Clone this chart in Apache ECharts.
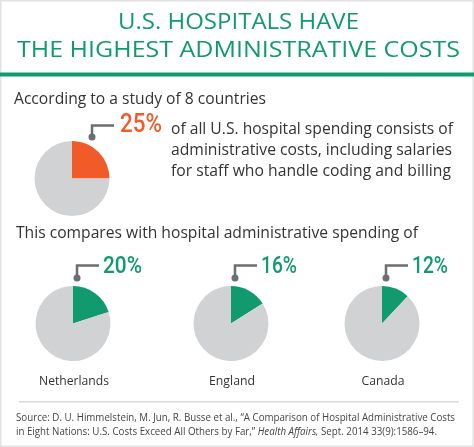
<!DOCTYPE html>
<html><head><meta charset="utf-8">
<script src="https://cdn.jsdelivr.net/npm/echarts@6/dist/echarts.min.js"></script>
<style>html,body{margin:0;padding:0;background:#fff}#c{width:474px;height:447px}</style>
</head><body><div id="c"></div>
<script>
const titleLines = ['U.S. HOSPITALS HAVE', 'THE HIGHEST ADMINISTRATIVE COSTS'];
const introText = 'According to a study of 8 countries';
const usLabel = 'United States';
const usValue = 25;
const usTextLines = ['of all U.S. hospital spending consists of', 'administrative costs, including salaries', 'for staff who handle coding and billing'];
const compareText = 'This compares with hospital administrative spending of';
const countries = ['Netherlands', 'England', 'Canada'];
const countryValues = [20, 16, 12];
const sourceLine1 = 'Source: D. U. Himmelstein, M. Jun, R. Busse et al., \u201cA Comparison of Hospital Administrative Costs';
const sourceLine2a = 'in Eight Nations: U.S. Costs Exceed All Others by Far,\u201d ';
const sourceItalic = 'Health Affairs,';
const sourceLine2b = ' Sept. 2014 33(9):1586\u201394.';

const GREEN = '#119a6e', ORANGE = '#f15a29', GREY = '#d1d2d4', LINE = '#6d6e71', TEXT = '#333333';
const FONT = '"Open Sans", Lato, sans-serif';
const PCT_FONT = 'Roboto, "Open Sans", sans-serif';

const ctx = document.createElement('canvas').getContext('2d');
function measure(text, font) { ctx.font = font; return ctx.measureText(text).width; }
function fit(text, font, target) { return target / measure(text, font); }

const chart = echarts.init(document.getElementById('c'), null, {renderer: 'canvas'});

const pieCenters = [[73, 323.5], [231, 323.5], [382, 323.5]];
const R = 37.5;

function pieSeries(name, value, color, center) {
  return {
    type: 'pie', name: name, center: center, radius: [0, R],
    startAngle: 90, clockwise: true, silent: true, animation: false,
    label: {show: false}, labelLine: {show: false},
    data: [
      {name: name, value: value, itemStyle: {color: color}},
      {name: 'Other', value: 100 - value, itemStyle: {color: GREY}}
    ]
  };
}

const series = [pieSeries(usLabel, usValue, ORANGE, [72, 178.5])];
countries.forEach((c, i) => series.push(pieSeries(c, countryValues[i], GREEN, pieCenters[i])));

function callout(dx, dy, topY, endX) {
  return [
    {type: 'polyline', shape: {points: [[dx, dy], [dx, topY], [endX, topY]]}, style: {stroke: LINE, lineWidth: 2.5, fill: null}},
    {type: 'circle', shape: {cx: dx, cy: dy, r: 3.5}, style: {fill: LINE}}
  ];
}

function txt(text, x, y, font, fill, width, align) {
  return {type: 'text', x: x, y: y, scaleX: fit(text, font, width),
    style: {text: text, fill: fill, font: font, textAlign: align || 'left', textVerticalAlign: 'middle'}};
}

const TITLE_FONT = '500 22px ' + FONT;
const BODY_FONT = '16px ' + FONT;
const SRC_FONT = '11px ' + FONT;
const SRC_IT = 'italic 11px ' + FONT;
const src2Width = measure(sourceLine2a, SRC_FONT) + measure(sourceItalic, SRC_IT) + measure(sourceLine2b, SRC_FONT);

const graphic = [
  {type: 'rect', shape: {x: 0.5, y: 0.5, width: 473, height: 446}, style: {fill: null, stroke: '#e2e2e2', lineWidth: 2}},
  txt(titleLines[0], 238.5, 23, TITLE_FONT, GREEN, 241, 'center'),
  txt(titleLines[1], 238.5, 51, TITLE_FONT, GREEN, 443, 'center'),
  {type: 'rect', shape: {x: 0, y: 72.5, width: 474, height: 4}, style: {fill: GREEN}},
  txt(introText, 14, 99, BODY_FONT, TEXT, 252),
  ...callout(92, 137, 125.5, 114),
  txt(usValue + '%', 120, 126, '500 25px ' + PCT_FONT, ORANGE, 42),
  txt(usTextLines[0], 171, 129, BODY_FONT, TEXT, 282),
  txt(usTextLines[1], 171, 150.5, BODY_FONT, TEXT, 281),
  txt(usTextLines[2], 171, 171, BODY_FONT, TEXT, 280),
  txt(compareText, 16, 233, BODY_FONT, TEXT, 402),
  {type: 'rect', shape: {x: 19, y: 401, width: 440, height: 1.5}, style: {fill: '#d9d9d9'}},
  txt(sourceLine1, 16, 418, SRC_FONT, '#444', 439),
  {type: 'text', x: 16, y: 431.5, scaleX: 421 / src2Width, style: {
    text: '{n|' + sourceLine2a + '}{i|' + sourceItalic + '}{n|' + sourceLine2b + '}',
    textVerticalAlign: 'middle',
    rich: {n: {fill: '#444', font: SRC_FONT}, i: {fill: '#444', font: SRC_IT}}
  }}
];

const pctWidths = [39, 36, 36];
const labelWidths = [70, 46, 43];
countries.forEach((c, i) => {
  const cx = pieCenters[i][0];
  const dx = cx + 4;
  graphic.push(...callout(dx, 278, 265.5, dx + 22));
  graphic.push(txt(countryValues[i] + '%', dx + 26, 267, '500 24px ' + PCT_FONT, GREEN, pctWidths[i]));
  graphic.push(txt(c, cx + 1, 381, '500 13px ' + FONT, TEXT, labelWidths[i], 'center'));
});

chart.setOption({animation: false, backgroundColor: '#fff', series: series, graphic: graphic});
</script></body></html>
